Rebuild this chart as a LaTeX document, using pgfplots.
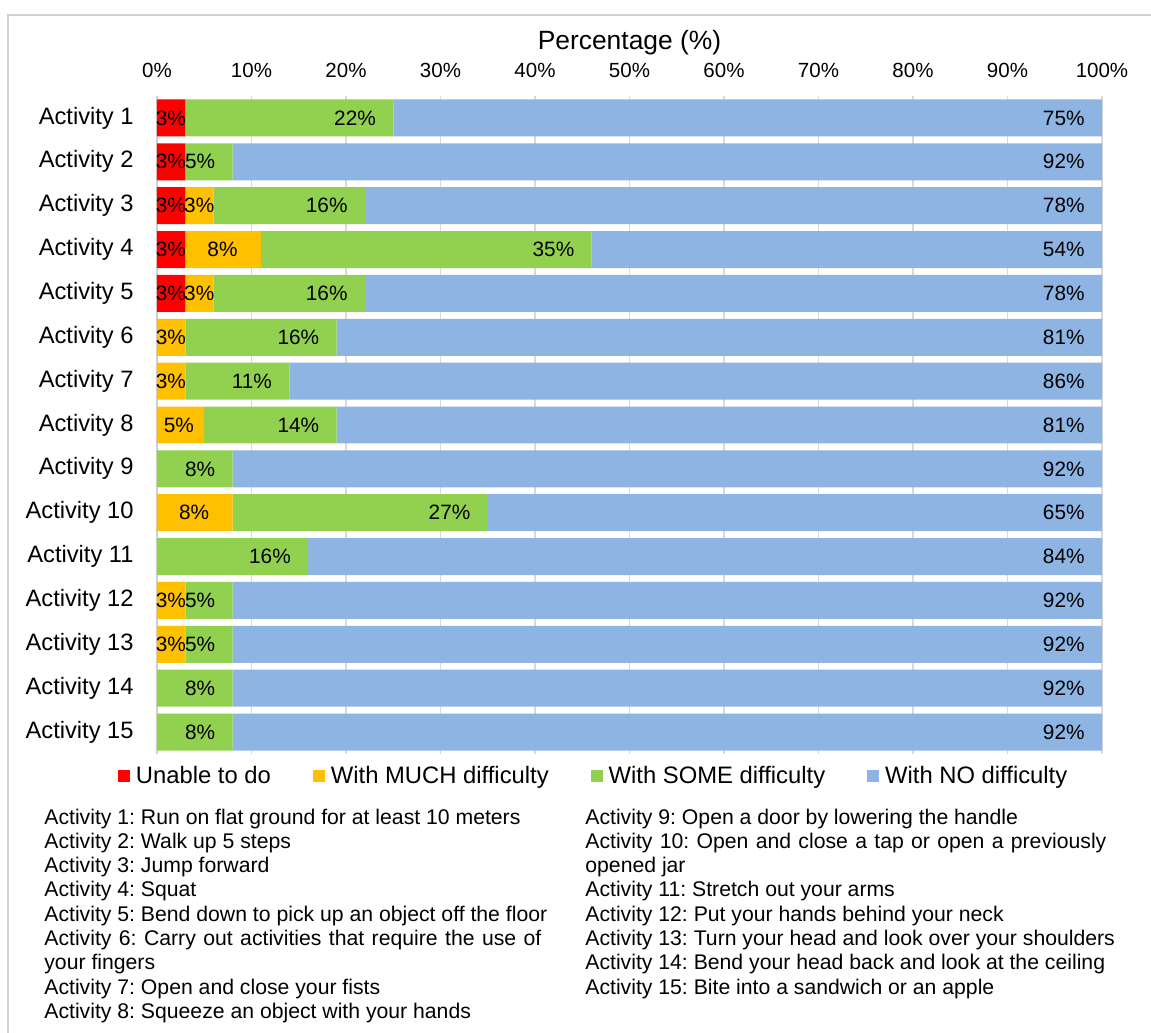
\documentclass[border=0pt]{standalone}
\usepackage{fontspec}
\setmainfont{Liberation Sans}
\usepackage{pgfplots}
\usepackage{pgfplotstable}
\pgfplotsset{compat=1.18}
\frenchspacing

\definecolor{cUnable}{HTML}{FF0000}
\definecolor{cMuch}{HTML}{FFC000}
\definecolor{cSome}{HTML}{92D050}
\definecolor{cNo}{HTML}{8EB4E3}
\definecolor{gridgray}{HTML}{D9D9D9}
\definecolor{framegray}{HTML}{D0D0D0}

% share of respondents (%) per activity; y = 15 is Activity 1
\pgfplotstableread{
y  r  m  s  n
15 3  0  22 75
14 3  0  5  92
13 3  3  16 78
12 3  8  35 54
11 3  3  16 78
10 0  3  16 81
9  0  3  11 86
8  0  5  14 81
7  0  0  8  92
6  0  8  27 65
5  0  0  16 84
4  0  3  5  92
3  0  3  5  92
2  0  0  8  92
1  0  0  8  92
}\responses

\newcommand\notefont{\fontsize{10.6}{12.15}\selectfont}
\newcommand\noteline[3]{\node[anchor=base west, inner sep=0pt, font=\notefont] at (#1pt,#2pt) {#3};}

% labels sit at the middle of each segment; move them to its right end
% (half a segment = value * 472.5pt/100/2), minus a small padding
\pgfplotsset{
  end label/.style={
    visualization depends on={rawx \as \val},
    nodes near coords style={xshift={(\val*2.3625+#1)*1pt}}},
}

\begin{document}
\begin{tikzpicture}
\begin{axis}[
  scale only axis,
  width=472.5pt, height=329pt,
  xbar stacked,
  bar width=0.843,
  xmin=0, xmax=100, ymin=0.5, ymax=15.5,
  axis x line*=top, axis y line*=left,
  x axis line style={draw=none},
  y axis line style={draw=framegray, line width=0.6pt},
  major tick length=0pt,
  xmajorgrids,
  grid style={gridgray, line width=0.6pt},
  /pgf/number format/assume math mode=true,
  xtick={0,10,...,100},
  xticklabel={\pgfmathprintnumber{\tick}\%},
  xticklabel style={font=\fontsize{10.25}{12}\selectfont, anchor=base, inner sep=0pt, yshift=9pt},
  ytick={1,...,15},
  yticklabels={Activity 15,Activity 14,Activity 13,Activity 12,Activity 11,Activity 10,Activity 9,Activity 8,Activity 7,Activity 6,Activity 5,Activity 4,Activity 3,Activity 2,Activity 1},
  yticklabel style={font=\fontsize{11.85}{14}\selectfont, anchor=east, inner sep=0pt, xshift=-11.5pt},
  xlabel={Percentage (\%)},
  xlabel style={font=\fontsize{13.2}{15}\selectfont, at={(axis description cs:0.5,1)}, anchor=base, inner sep=0pt, yshift=23.25pt},
  point meta=explicit,
  nodes near coords={\pgfmathfloatifflags{\pgfplotspointmeta}{0}{}{\pgfmathprintnumber{\pgfplotspointmeta}\%}},
  nodes near coords align={anchor=east},
  every node near coord/.append style={font=\fontsize{10.4}{12}\selectfont, anchor=east, inner sep=0pt, text=black},
  legend columns=4,
  legend image code/.code={\fill[#1] (0pt,-3pt) rectangle (6pt,3pt);},
  legend style={draw=none, fill=none, inner sep=0pt, outer sep=0pt,
    at={(axis description cs:-0.04127,-0.03343)}, anchor=west,
    font=\fontsize{11.9}{14}\selectfont,
    nodes={inner sep=0pt},
    /tikz/every odd column/.append style={column sep=3pt},
    /tikz/every even column/.append style={column sep=21pt}},
]
\addplot[fill=cUnable, draw=none, end label=0.5]
  table[x=r, y=y, meta=r] {\responses};
\addplot[fill=cMuch, draw=none,
  visualization depends on={rawx \as \val},
  nodes near coords style={xshift={(\val*2.3625+ifthenelse(\val<4,0.5,ifthenelse(\val<6,-5,-11.5)))*1pt}}]
  table[x=m, y=y, meta=m] {\responses};
\addplot[fill=cSome, draw=none, end label=-8.5]
  table[x=s, y=y, meta=s] {\responses};
\addplot[fill=cNo, draw=none, end label=-8.5]
  table[x=n, y=y, meta=n] {\responses};
\legend{Unable to do, With MUCH difficulty, With SOME difficulty, With NO difficulty}
\end{axis}

% frame lines
\draw[framegray, line width=0.75pt] (-74.5pt,-139.5pt) -- (-74.5pt,369.5pt) -- (497pt,369.5pt);

% activity descriptions
\noteline{-56.5}{-35}{Activity 1: Run on flat ground for at least 10 meters}
\noteline{-56.5}{-47.15}{Activity 2: Walk up 5 steps}
\noteline{-56.5}{-59.3}{Activity 3: Jump forward}
\noteline{-56.5}{-71.45}{Activity 4: Squat}
\noteline{-56.5}{-83.6}{Activity 5: Bend down to pick up an object off the floor}
\noteline{-56.5}{-95.75}{\makebox[248.5pt][s]{Activity 6: Carry out activities that require the use of}}
\noteline{-56.5}{-107.9}{your fingers}
\noteline{-56.5}{-120.05}{Activity 7: Open and close your fists}
\noteline{-56.5}{-132.2}{Activity 8: Squeeze an object with your hands}

\noteline{214}{-35}{Activity 9: Open a door by lowering the handle}
\noteline{214}{-47.15}{\makebox[260.5pt][s]{Activity 10: Open and close a tap or open a previously}}
\noteline{214}{-59.3}{opened jar}
\noteline{214}{-71.45}{Activity 11: Stretch out your arms}
\noteline{214}{-83.6}{Activity 12: Put your hands behind your neck}
\noteline{214}{-95.75}{Activity 13: Turn your head and look over your shoulders}
\noteline{214}{-107.9}{Activity 14: Bend your head back and look at the ceiling}
\noteline{214}{-120.05}{Activity 15: Bite into a sandwich or an apple}

\pgfresetboundingbox
\path (-78.5pt,-139.5pt) rectangle (497pt,377pt);
\end{tikzpicture}
\end{document}
